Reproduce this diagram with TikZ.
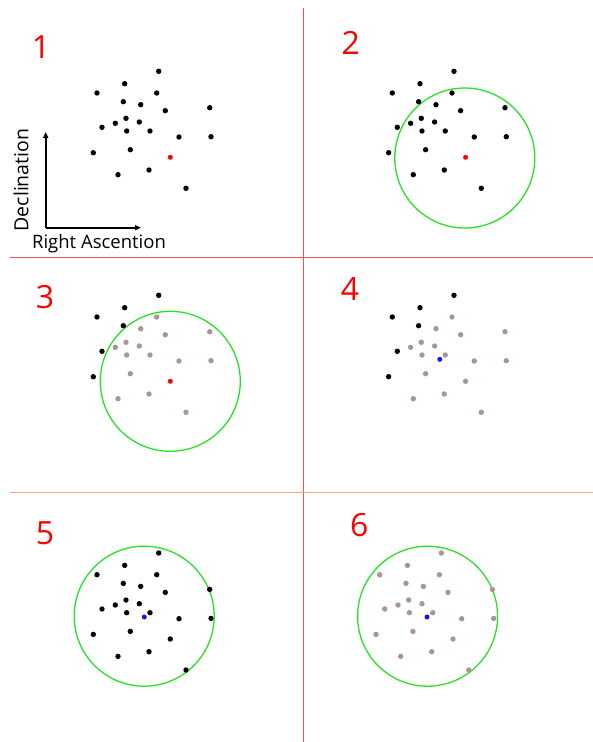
\documentclass[tikz,border=0pt]{standalone}
\usepackage{fontspec}
\setmainfont{Open Sans}
\usetikzlibrary{arrows.meta}
\definecolor{divred}{RGB}{238,84,84}
\definecolor{divpink}{RGB}{248,160,160}
\definecolor{numred}{RGB}{255,0,0}
\definecolor{ringgreen}{RGB}{40,225,40}
\definecolor{dotgray}{RGB}{170,148,148}
\definecolor{dotblue}{RGB}{20,20,240}
\newcommand\mydots[2]{%
  \foreach \px/\py in {158.7/71.3,124.7/83.7,97/93,123.3/101.7,102/127.3,93.3/152.7}
    \fill[#1] (\px,\py) circle (2.7);
  \foreach \px/\py in {156.7/93,140.7/104.7,165.3/110.7,209.7/107.7,126/118.3,115.3/123.3,139.3/122,126.7/131,150/131,179/137,211/136.7,130.3/149.7,118/174.7,149/170,186/188.3}
    \fill[#2] (\px,\py) circle (2.7);}
\begin{document}
\begin{tikzpicture}[x=1pt,y=-1pt,
  num/.style={text=numred,font=\fontsize{32}{32}\selectfont,inner sep=0pt},
  axlabel/.style={font=\fontsize{18.5}{19}\selectfont,inner sep=0pt},
  ring/.style={draw=ringgreen,line width=1.3pt},
  axis/.style={line width=1.6pt,-{Triangle[length=6pt,width=5pt]}}]
\useasboundingbox (0,0) rectangle (593,742);
\fill[white] (0,0) rectangle (593,742);
% dividers
\draw[divred,line width=0.9pt] (303,8) -- (303,742);
\draw[divred,line width=0.9pt] (10,257.3) -- (593,257.3);
\draw[divpink,line width=1.4pt] (10,492.7) -- (593,492.7);
% panel numbers
\node[num] (n1) at (41,46.7) {1};
\node[num] (n2) at (350.7,43.3) {2};
\node[num] (n3) at (45,297.3) {3};
\node[num] (n4) at (350,288.7) {4};
\node[num] (n5) at (45,533.3) {5};
\node[num] (n6) at (359.3,525) {6};
% panel 1
\mydots{black}{black}
\fill[numred] (170.3,157.3) circle (2.5);
\coordinate (o) at (45.7,227.7);
\coordinate (ytop) at (45.7,132);
\coordinate (xend) at (141,227.7);
\draw[axis] (o) -- (ytop);
\draw[axis] (o) -- (xend);
\node[axlabel,font=\fontsize{19.5}{20}\selectfont,rotate=90] (dec) at (21,180) {Declination};
\node[axlabel] (ra) at (99,244) {Right Ascention};
% panel 2
\begin{scope}[shift={(295.3,0)}]
\draw[ring] (169.5,158) circle (70);
\mydots{black}{black}
\fill[numred] (170.3,157.3) circle (2.5);
\end{scope}
% panel 3
\begin{scope}[shift={(0,224)}]
\draw[ring] (170.3,157.3) circle (70);
\mydots{black}{dotgray}
\fill[numred] (170.3,157.3) circle (2.5);
\end{scope}
% panel 4
\begin{scope}[shift={(295.3,224)}]
\mydots{black}{dotgray}
\fill[dotgray] (170.3,157.3) circle (2.7);
\fill[dotblue] (144.5,135.3) circle (2.5);
\end{scope}
% panel 5
\begin{scope}[shift={(0,481.7)}]
\draw[ring] (144.2,134.5) circle (70);
\mydots{black}{black}
\fill[black] (170.3,157.3) circle (2.7);
\fill[dotblue] (144.3,135.3) circle (2.5);
\end{scope}
% panel 6
\begin{scope}[shift={(282.7,481.7)}]
\draw[ring] (144.9,134.5) circle (70);
\mydots{dotgray}{dotgray}
\fill[dotgray] (170.3,157.3) circle (2.7);
\fill[dotblue] (144.3,135.3) circle (2.5);
\end{scope}
\end{tikzpicture}
\end{document}
